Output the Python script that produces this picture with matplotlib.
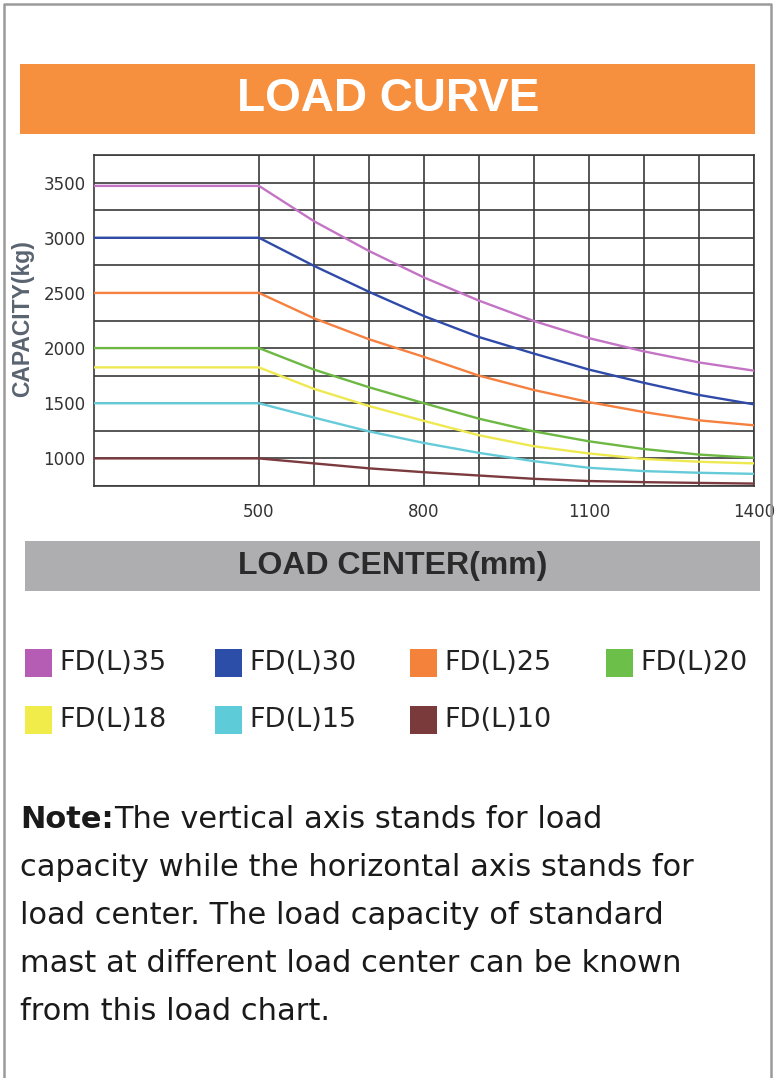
import matplotlib.pyplot as plt
from matplotlib.patches import Rectangle
from matplotlib.lines import Line2D

# load center (mm)
centers = [200, 500, 600, 700, 800, 900, 1000, 1100, 1200, 1300, 1400]

fd35 = [3470, 3470, 3150, 2880, 2640, 2430, 2245, 2090, 1970, 1870, 1795]
fd30 = [3000, 3000, 2745, 2510, 2290, 2100, 1950, 1805, 1685, 1575, 1490]
fd25 = [2500, 2500, 2270, 2080, 1920, 1750, 1620, 1510, 1420, 1345, 1300]
fd20 = [2000, 2000, 1805, 1645, 1500, 1360, 1245, 1155, 1085, 1035, 1005]
fd18 = [1825, 1825, 1630, 1475, 1340, 1210, 1110, 1045, 995, 970, 955]
fd15 = [1500, 1500, 1370, 1245, 1140, 1050, 975, 915, 885, 870, 860]
fd10 = [1000, 1000, 955, 910, 875, 845, 815, 795, 785, 778, 772]

models = ['FD(L)35', 'FD(L)30', 'FD(L)25', 'FD(L)20', 'FD(L)18', 'FD(L)15', 'FD(L)10']
series = [fd35, fd30, fd25, fd20, fd18, fd15, fd10]
line_colors = ['#c474c4', '#2f4aa8', '#f5803f', '#6cb843', '#eee950', '#66cbd8', '#7b3a3e']
box_colors = ['#b55db5', '#2c4ea8', '#f5823a', '#6cc04a', '#f2ec4a', '#5ecbd8', '#7a3a3c']

yticks = [1000, 1500, 2000, 2500, 3000, 3500]
xticks = [500, 800, 1100, 1400]

W, H = 775, 1078
fig = plt.figure(figsize=(W / 100, H / 100), dpi=100)

def fx(px):
    return px / W

def fy(py):
    return 1 - py / H

# outer frame (left, top, right)
fig.add_artist(Line2D([fx(3.5), fx(3.5), fx(770.5), fx(770.5)],
                      [0, fy(3.5), fy(3.5), 0], color='#9a9a9a', lw=1.8))

# title banner
fig.add_artist(Rectangle((fx(20), fy(134)), fx(735), 70 / H, color='#f7903e', lw=0))
fig.text(fx(388), fy(99), 'LOAD CURVE', color='white', fontsize=33, fontweight='bold',
         family='Liberation Sans', ha='center', va='center')

# chart
ax = fig.add_axes([fx(94), fy(486), fx(660), 331 / H])
for vals, c in zip(series, line_colors):
    ax.plot(centers, vals, color=c, lw=1.7, zorder=3, solid_capstyle='butt')
ax.set_xlim(200, 1400)
ax.set_ylim(750, 3750)
for gx in range(500, 1401, 100):
    ax.axvline(gx, color='#3a3a3a', lw=1.2, zorder=2)
for gy in range(750, 3751, 250):
    ax.axhline(gy, color='#3a3a3a', lw=1.2, zorder=2)
for s in ax.spines.values():
    s.set_color('#3a3a3a')
    s.set_linewidth(1.2)
ax.set_xticks(xticks)
ax.set_yticks(yticks)
ax.tick_params(length=0, labelsize=12, labelcolor='#333333')
ax.tick_params(axis='x', pad=12)
ax.tick_params(axis='y', pad=6)
fig.text(fx(23), fy(319), 'CAPACITY(kg)', rotation=90, color='#5a6470', fontsize=16.5,
         fontweight='bold', family='Liberation Sans', ha='center', va='center')

# x label banner
fig.add_artist(Rectangle((fx(25), fy(591)), fx(735), 50 / H, color='#aeaeb0', lw=0))
fig.text(fx(393), fy(566), 'LOAD CENTER(mm)', color='#2a2a2a', fontsize=23,
         fontweight='bold', family='Liberation Sans', ha='center', va='center')

# legend
col_x = [25, 215, 410, 606]
row_y = [663, 720]
for i, (name, c) in enumerate(zip(models, box_colors)):
    x0 = col_x[i % 4]
    y0 = row_y[i // 4]
    fig.add_artist(Rectangle((fx(x0), fy(y0 + 14)), fx(27), 28 / H, color=c, lw=0))
    fig.text(fx(x0 + 34), fy(y0), name, color='#222222', fontsize=19.5,
             ha='left', va='center')

# note
note_lines = ['The vertical axis stands for load',
              'capacity while the horizontal axis stands for',
              'load center. The load capacity of standard',
              'mast at different load center can be known',
              'from this load chart.']
line_y = [820, 868, 916, 964, 1012]
bold = fig.text(fx(20), fy(line_y[0]), 'Note:', color='#1a1a1a', fontsize=22,
                fontweight='bold', ha='left', va='center')
r = fig.canvas.get_renderer()
bw = bold.get_window_extent(r).width
for k, (txt, yy) in enumerate(zip(note_lines, line_y)):
    x0 = 20 + (bw if k == 0 else 0)
    fig.text(fx(x0), fy(yy), txt, color='#1a1a1a', fontsize=22, ha='left', va='center')

fig.savefig('out.png', dpi=100)
